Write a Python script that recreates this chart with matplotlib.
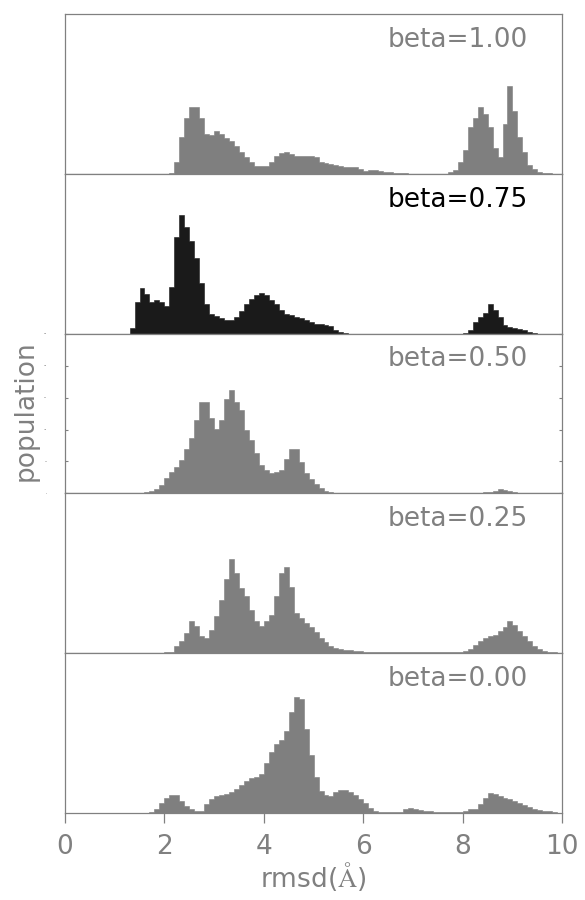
import numpy as np
import matplotlib.pyplot as plt

plt.rcParams['mathtext.fontset'] = 'cm'

# histogram bin edges, 0.1 A wide
rmsd_edges = [i / 10 for i in range(101)]

# population per bin (arbitrary units) for each beta
pop_100 = [0, 0, 0, 0, 0, 0, 0, 0, 0, 0,
           0, 0, 0, 0, 0, 0, 0, 0, 0, 1,
           1, 2, 35, 112, 168, 202, 202, 168, 120, 118,
           128, 120, 108, 100, 85, 65, 50, 35, 25, 25,
           25, 35, 53, 62, 65, 60, 55, 53, 53, 53,
           50, 35, 32, 30, 28, 25, 22, 22, 20, 15,
           10, 12, 12, 10, 7, 5, 3, 2, 2, 1,
           1, 1, 1, 1, 1, 1, 1, 5, 13, 35,
           72, 140, 168, 202, 180, 140, 78, 50, 152, 265,
           190, 110, 65, 28, 15, 5, 2, 2, 0, 0]

pop_075 = [0, 0, 0, 0, 0, 0, 0, 0, 0, 0,
           0, 0, 0, 18, 95, 138, 118, 95, 102, 95,
           82, 140, 290, 357, 320, 278, 228, 152, 90, 60,
           53, 47, 40, 40, 50, 68, 90, 105, 115, 122,
           115, 102, 90, 70, 60, 55, 50, 47, 40, 35,
           30, 28, 25, 22, 12, 4, 1, 0, 0, 0,
           0, 0, 0, 0, 0, 0, 0, 0, 0, 0,
           0, 0, 0, 0, 0, 0, 0, 0, 0, 0,
           2, 12, 35, 50, 62, 88, 72, 50, 25, 20,
           18, 15, 10, 5, 2, 0, 0, 0, 0, 0]

pop_050 = [0, 0, 0, 0, 0, 0, 0, 0, 0, 0,
           0, 0, 0, 0, 0, 2, 3, 6, 12, 25,
           45, 65, 80, 100, 132, 165, 222, 275, 275, 228,
           194, 222, 285, 312, 275, 252, 190, 160, 120, 85,
           70, 62, 65, 70, 102, 132, 132, 95, 60, 42,
           28, 15, 8, 4, 2, 2, 2, 2, 2, 2,
           2, 2, 2, 2, 2, 2, 2, 2, 2, 2,
           2, 2, 2, 2, 2, 2, 2, 2, 2, 2,
           2, 2, 2, 2, 3, 5, 8, 12, 10, 6,
           4, 2, 2, 0, 0, 0, 0, 0, 0, 0]

pop_025 = [0, 0, 0, 0, 0, 0, 0, 0, 0, 0,
           0, 0, 0, 0, 0, 0, 0, 0, 0, 0,
           2, 4, 20, 35, 60, 95, 80, 52, 45, 68,
           110, 160, 222, 282, 242, 195, 170, 128, 95, 82,
           95, 115, 172, 242, 258, 200, 120, 105, 90, 78,
           62, 45, 32, 20, 14, 12, 10, 8, 6, 5,
           4, 3, 3, 3, 3, 3, 3, 3, 3, 3,
           3, 3, 3, 3, 3, 3, 3, 3, 3, 3,
           5, 12, 25, 35, 45, 52, 55, 65, 78, 95,
           85, 65, 50, 35, 22, 12, 7, 4, 2, 0]

pop_000 = [0, 0, 0, 0, 0, 0, 0, 0, 0, 0,
           0, 0, 0, 0, 0, 0, 0, 3, 12, 28,
           45, 52, 52, 35, 20, 10, 5, 5, 25, 42,
           50, 53, 55, 62, 72, 82, 95, 105, 108, 115,
           150, 182, 208, 220, 245, 302, 349, 342, 252, 172,
           108, 65, 52, 50, 62, 68, 68, 62, 52, 42,
           30, 15, 5, 2, 2, 2, 2, 3, 10, 13,
           12, 8, 6, 4, 3, 3, 3, 3, 3, 3,
           5, 10, 12, 25, 45, 58, 55, 50, 45, 40,
           35, 28, 22, 18, 12, 8, 6, 4, 2, 0]

labels = ['beta=1.00', 'beta=0.75', 'beta=0.50', 'beta=0.25', 'beta=0.00']
series = [pop_100, pop_075, pop_050, pop_025, pop_000]
fill_colors = ['#7f7f7f', '#1a1a1a', '#7f7f7f', '#7f7f7f', '#7f7f7f']
text_colors = ['#808080', '#000000', '#808080', '#808080', '#808080']
gray = '#808080'

fig, axes = plt.subplots(5, 1, sharex=True, figsize=(5.85, 9), dpi=100)
fig.subplots_adjust(left=0.111, right=0.961, top=0.984, bottom=0.097, hspace=0)

for ax, pop, lab, fc, tc in zip(axes, series, labels, fill_colors, text_colors):
    ax.stairs(pop, rmsd_edges, fill=True, facecolor=fc, edgecolor=fc, linewidth=0.4)
    ax.set_xlim(0, 10)
    ax.set_ylim(0, 480)
    for sp in ax.spines.values():
        sp.set_color(gray)
        sp.set_linewidth(0.9)
    ax.tick_params(left=False, bottom=False, labelleft=False, labelbottom=False)
    ax.text(0.932, 0.796, lab, transform=ax.transAxes, ha='right', va='baseline',
            fontsize=19, color=tc)

# middle panel carries the (tiny) population ticks
mid = axes[2]
mid.set_yticks([0, 96, 192, 288, 384, 480])
mid.tick_params(axis='y', left=True, right=True, labelleft=True, direction='in',
                length=2.5, color=gray, labelsize=1, labelcolor='#555555', pad=13)

bot = axes[-1]
bot.set_xticks([0, 2, 4, 6, 8, 10])
bot.tick_params(axis='x', bottom=True, labelbottom=True, direction='out', length=7.5,
                color=gray, labelcolor=gray, labelsize=19, width=0.9, pad=7.8)
bot.set_xlabel(r'rmsd($\mathrm{\AA}$)', fontsize=19, color=gray, labelpad=0)

fig.text(0.043, 0.544, 'population', rotation=90, ha='center', va='center',
         fontsize=19, color=gray)

fig.savefig('out.png', dpi=100)
